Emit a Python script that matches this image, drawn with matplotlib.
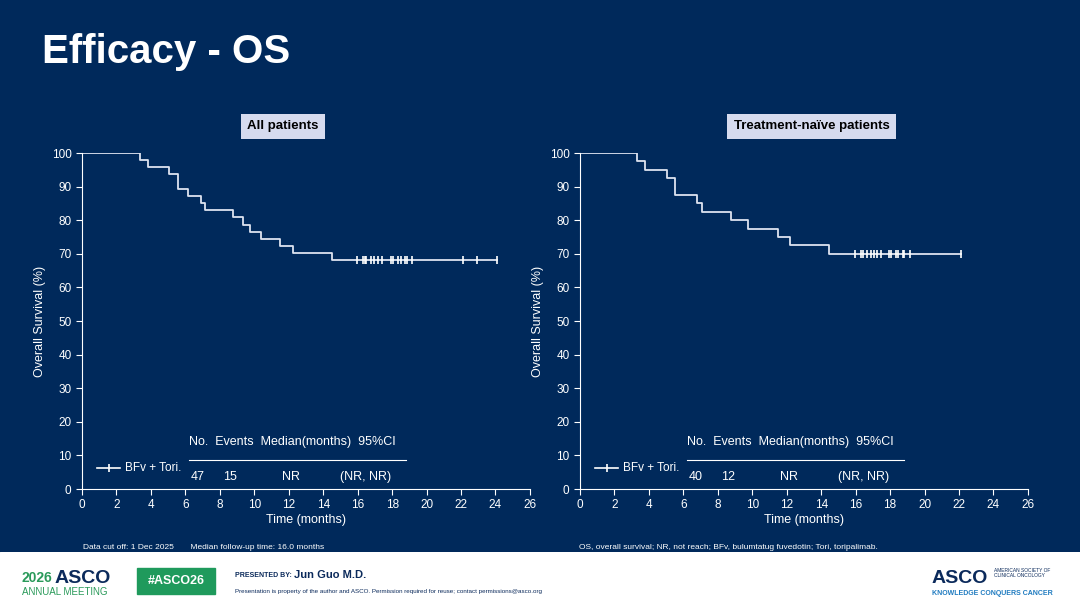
import matplotlib.pyplot as plt
import numpy as np

BG = "#00295b"
FG = "#ffffff"

# all patients (n=47)
all_evt_t = [3.37, 3.85, 5.07, 5.55, 5.60, 6.13, 6.89, 7.14, 8.78, 9.36, 9.75, 10.39, 11.51, 12.23, 14.53]
all_cens = [15.98, 16.29, 16.42, 16.48, 16.76, 16.95, 17.16, 17.43, 17.92, 18.07, 18.36, 18.50,
            18.75, 18.85, 19.13, 22.1, 22.94, 24.1]
all_n = 47
# treatment-naive (n=40)
tn_evt_t = [3.30, 3.76, 5.04, 5.51, 5.51, 6.79, 7.10, 8.74, 9.73, 11.48, 12.2, 14.47]
tn_cens = [15.98, 16.33, 16.43, 16.68, 16.87, 17.07, 17.26, 17.45, 17.92, 18.03, 18.34, 18.46,
           18.73, 18.83, 19.14, 22.09]
tn_n = 40

panels = [
    ("All patients", all_evt_t, all_cens, all_n, ["47", "15", "NR", "(NR, NR)"], 0.449),
    ("Treatment-naïve patients", tn_evt_t, tn_cens, tn_n, ["40", "12", "NR", "(NR, NR)"], 0.517),
]


def km(evt, cens, n):
    times = sorted(set(evt))
    s = 1.0
    xs, ys = [0], [100]
    allt = sorted([(t, 1) for t in evt] + [(t, 0) for t in cens])
    for t in times:
        r = n - sum(1 for tt, _ in allt if tt < t)
        d = evt.count(t)
        s *= (r - d) / r
        xs.append(t)
        ys.append(s * 100)
    return xs, ys


def surv_at(xs, ys, t):
    idx = np.searchsorted(xs, t, side="right") - 1
    return ys[idx]


fig = plt.figure(figsize=(10.8, 6.08), dpi=100)
fig.patch.set_facecolor(BG)
plt.rcParams['font.family'] = ['Liberation Sans', 'DejaVu Sans']

fig.text(0.039, 0.915, "Efficacy - OS", color=FG, fontsize=29, fontweight="bold", va="center")

lefts = [0.0759, 0.537]
for (title, evt, cens, n, row, tx), left in zip(panels, lefts):
    ax = fig.add_axes([left, 0.1957, 0.4148, 0.5526])
    ax.set_facecolor(BG)
    xs, ys = km(evt, cens, n)
    end = max(cens)
    ax.step(xs + [end], ys + [ys[-1]], where="post", color="#dde3f0", lw=1.3)
    ax.plot(cens, [surv_at(xs, ys, c) for c in cens], ls="none", marker="|", ms=6,
            mew=1.2, color=FG)
    ax.set_xlim(0, 26)
    ax.set_ylim(0, 100)
    ax.set_xticks(range(0, 27, 2))
    ax.set_yticks(range(0, 101, 10))
    for s in ["top", "right"]:
        ax.spines[s].set_visible(False)
    for s in ["left", "bottom"]:
        ax.spines[s].set_color(FG)
    ax.tick_params(colors=FG, labelsize=8.5, length=4)
    ax.set_xlabel("Time (months)", color=FG, fontsize=9, labelpad=2)
    ax.set_ylabel("Overall Survival (%)", color=FG, fontsize=9)
    ax.text(tx, 1.08, title, transform=ax.transAxes, ha="center", va="center",
            fontsize=9.5, fontweight="bold", color="#000000",
            bbox=dict(boxstyle="square,pad=0.5", fc="#d6dbef", ec="none"))
    # legend
    ax.plot([0.9, 2.2], [6.2, 6.2], color=FG, lw=1.2)
    ax.plot([1.55], [6.2], marker="|", ms=6, color=FG, mew=1.2)
    ax.text(2.5, 6.2, "BFv + Tori.", color=FG, fontsize=8.5, va="center")
    # table
    ax.text(6.2, 14, "No.  Events  Median(months)  95%CI", color=FG, fontsize=9, va="center")
    ax.plot([6.2, 18.8], [8.6, 8.6], color=FG, lw=0.8)
    for x, v in zip([6.3, 8.2, 11.6, 15.0], row):
        ax.text(x, 3.5, v, color=FG, fontsize=9, va="center")

fig.text(0.077, 0.1, "Data cut off: 1 Dec 2025       Median follow-up time: 16.0 months",
         color=FG, fontsize=6, va="center")
fig.text(0.536, 0.1, "OS, overall survival; NR, not reach; BFv, bulumtatug fuvedotin; Tori, toripalimab.",
         color=FG, fontsize=6, va="center")

# footer
foot = fig.add_axes([0, 0, 1, 0.092])
foot.set_facecolor("white")
foot.set_xlim(0, 1080)
foot.set_ylim(0, 56)
foot.axis("off")
foot.add_patch(plt.Rectangle((0, 0), 1080, 56, color="white"))
foot.text(22, 30, "2026", color="#2a9a5a", fontsize=10, fontweight="bold", va="center")
foot.text(55, 30, "ASCO", color="#0b2a5b", fontsize=14, fontweight="bold", va="center")
foot.text(22, 16, "ANNUAL MEETING", color="#2a9a5a", fontsize=7, va="center")
foot.add_patch(plt.Rectangle((137, 14), 78, 26, color="#1f9a5c"))
foot.text(176, 27, "#ASCO26", color="white", fontsize=9, fontweight="bold", ha="center", va="center")
foot.text(235, 33, "PRESENTED BY:", color="#0b2a5b", fontsize=5, fontweight="bold", va="center")
foot.text(294, 33, "Jun Guo M.D.", color="#0b2a5b", fontsize=8, fontweight="bold", va="center")
foot.text(235, 17, "Presentation is property of the author and ASCO. Permission required for reuse; contact permissions@asco.org",
          color="#0b2a5b", fontsize=4.5, va="center")
foot.text(932, 30, "ASCO", color="#0b2a5b", fontsize=14, fontweight="bold", va="center")
foot.text(994, 35, "AMERICAN SOCIETY OF\nCLINICAL ONCOLOGY", color="#0b2a5b", fontsize=3.5, va="center")
foot.text(932, 15, "KNOWLEDGE CONQUERS CANCER", color="#1f7bc0", fontsize=5, fontweight="bold", va="center")

fig.savefig("out.png", dpi=100, facecolor=BG)
